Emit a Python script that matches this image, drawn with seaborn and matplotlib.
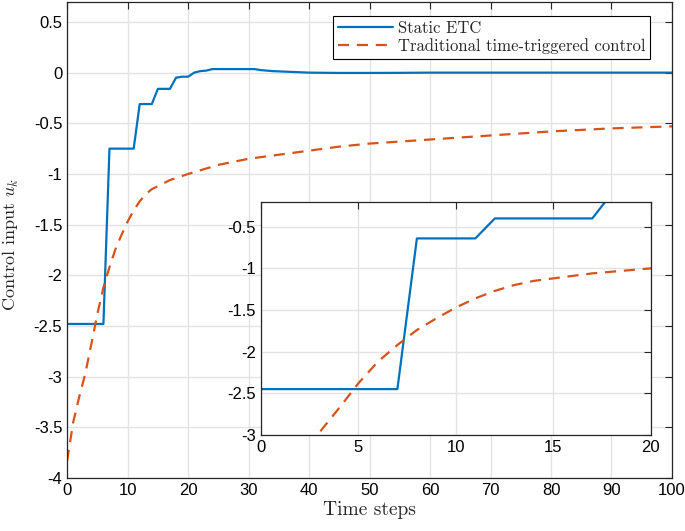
import matplotlib
matplotlib.use("Agg")
import matplotlib.pyplot as plt
import seaborn as sns

# main plot: Static ETC control input (time step, value)
k_etc = [0, 1, 2, 3, 4, 5, 6, 7, 8, 9, 10, 11, 12, 13, 14, 15, 16, 17, 18, 19, 20,
         21, 22, 23, 24, 27, 31, 32, 34, 36, 38, 40, 45, 50, 55, 60, 70, 80, 90, 100]
u_etc = [-2.48, -2.48, -2.48, -2.48, -2.48, -2.48, -2.48, -0.75, -0.75, -0.75, -0.75, -0.75,
         -0.31, -0.31, -0.31, -0.16, -0.16, -0.16, -0.05, -0.04, -0.04,
         0.0, 0.015, 0.02, 0.035, 0.035, 0.035, 0.025, 0.015, 0.01, 0.005, 0.0,
         -0.003, -0.003, -0.002, 0.0, 0.0, 0.0, 0.0, 0.0]

# traditional time-triggered control
k_tt = [0, 1, 2, 3, 4, 5, 6, 7, 8, 9, 10, 11, 12, 13, 14, 15, 16, 17, 18, 19, 20,
        25, 30, 35, 40, 45, 50, 55, 60, 65, 70, 75, 80, 85, 90, 95, 100]
u_tt = [-3.83, -3.45, -3.2, -2.97, -2.68, -2.38, -2.12, -1.92, -1.74, -1.6, -1.47,
        -1.36, -1.27, -1.2, -1.15, -1.12, -1.09, -1.06, -1.04, -1.02, -1.0,
        -0.91, -0.85, -0.81, -0.77, -0.73, -0.7, -0.68, -0.66, -0.64, -0.62, -0.6,
        -0.58, -0.565, -0.55, -0.54, -0.53]

# inset: Static ETC over the first steps
k_inset = [0, 1, 2, 3, 4, 5, 6, 7, 8, 9, 10, 11, 12, 13, 14, 15, 16, 17, 18, 19, 20]
u_inset = [-2.45, -2.45, -2.45, -2.45, -2.45, -2.45, -2.45, -2.45, -0.64, -0.64, -0.64,
           -0.64, -0.4, -0.4, -0.4, -0.4, -0.4, -0.4, -0.1, -0.05, -0.04]

labels = ["Static ETC", "Traditional time-triggered control"]
blue = "#0072BD"
orange = "#D95319"
dash = (0, (5, 3.5))

sns.set_style("white")
plt.rcParams["font.family"] = ["Liberation Sans", "DejaVu Sans"]
plt.rcParams["axes.unicode_minus"] = False
plt.rcParams["mathtext.fontset"] = "cm"

fig = plt.figure(figsize=(6.85, 5.31), dpi=100)
ax = fig.add_axes([0.098, 0.0998, 0.883, 0.897])

sns.lineplot(x=k_etc, y=u_etc, ax=ax, color=blue, linewidth=1.6, label=labels[0])
sns.lineplot(x=k_tt, y=u_tt, ax=ax, color=orange, linewidth=1.6,
             linestyle=dash, label=labels[1])

ax.set_xlim(0, 100)
ax.set_ylim(-4, 0.7)
ax.set_xticks(range(0, 101, 10))
ax.set_yticks([-4, -3.5, -3, -2.5, -2, -1.5, -1, -0.5, 0, 0.5])
ax.set_yticklabels(["-4", "-3.5", "-3", "-2.5", "-2", "-1.5", "-1", "-0.5", "0", "0.5"])
ax.grid(True, color="#e3e3e3", linewidth=1)
ax.tick_params(direction="in", top=True, right=True, labelsize=12, length=5,
               color="#262626", labelcolor="black")
for s in ax.spines.values():
    s.set_color("#262626")
    s.set_linewidth(0.9)
ax.set_xlabel("Time steps", family="cmr10", fontsize=14, labelpad=2)
ax.set_ylabel(r"Control input $u_k$", family="cmr10", fontsize=13)
ax.yaxis.set_label_coords(-0.076, 0.49)

leg = ax.legend(loc="upper right", bbox_to_anchor=(0.964, 0.971), fancybox=False,
                framealpha=1, edgecolor="black", handlelength=3.3,
                prop={"family": "cmr10", "size": 12}, borderpad=0.3,
                labelspacing=0.15, handletextpad=0.3, borderaxespad=0)
leg.get_frame().set_linewidth(0.8)

# inset
ins = fig.add_axes([0.381, 0.181, 0.569, 0.439])
sns.lineplot(x=k_inset, y=u_inset, ax=ins, color=blue, linewidth=1.6)
sns.lineplot(x=k_tt, y=u_tt, ax=ins, color=orange, linewidth=1.6, linestyle=dash)
ins.set_xlim(0, 20)
ins.set_ylim(-3, -0.2)
ins.set_xticks([0, 5, 10, 15, 20])
ins.set_yticks([-3, -2.5, -2, -1.5, -1, -0.5])
ins.set_yticklabels(["-3", "-2.5", "-2", "-1.5", "-1", "-0.5"])
ins.grid(True, color="#e3e3e3", linewidth=1)
ins.tick_params(direction="in", top=True, right=True, labelsize=12, length=5,
                color="#262626", labelcolor="black")
for s in ins.spines.values():
    s.set_color("#262626")
    s.set_linewidth(0.9)
ins.set_xlabel("")
ins.set_ylabel("")

fig.savefig("out.png", dpi=100)
